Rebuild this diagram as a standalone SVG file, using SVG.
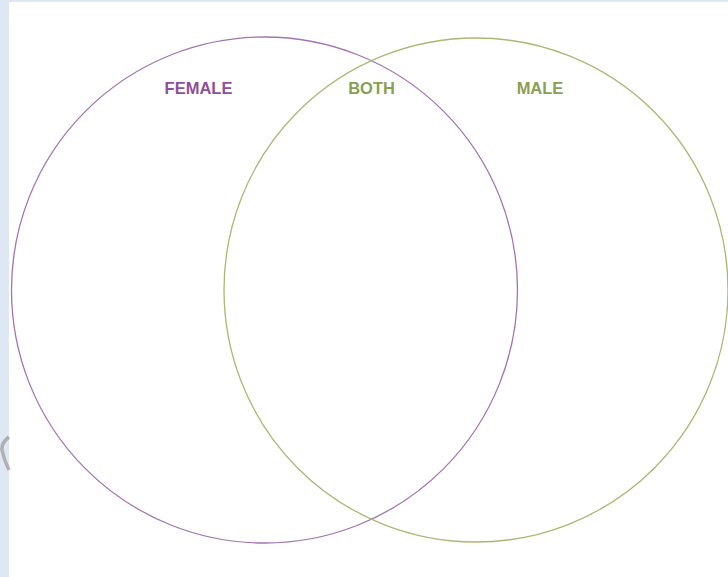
<svg xmlns="http://www.w3.org/2000/svg" width="728" height="577" viewBox="0 0 728 577">
<style>
.c{fill:none;stroke-width:1.3}
.t{font-family:"Liberation Sans",Arial,sans-serif;font-weight:bold;font-size:16.5px;text-anchor:middle}
</style>
<rect x="0" y="0" width="728" height="577" fill="#ffffff"/>
<rect x="0" y="0" width="9" height="577" fill="#dde8f4"/>
<rect x="0" y="0" width="728" height="2" fill="#dde8f4"/>
<path d="M9,437 Q1,443 2,450 Q4,460 9,470" fill="none" stroke="#b0b0b0" stroke-width="3.5"/>
<g id="female">
<circle class="c" cx="264.5" cy="290" r="253" stroke="#a274b0"/>
<text class="t" x="198.5" y="94" fill="#8d4f98">FEMALE</text>
</g>
<g id="male">
<circle class="c" cx="476" cy="290" r="252" stroke="#a9b874"/>
<text class="t" x="540" y="94" fill="#8a9f52">MALE</text>
</g>
<g id="both">
<text class="t" x="371.5" y="94" fill="#8a9f52">BOTH</text>
</g>
<g id="connectors"></g>
</svg>
